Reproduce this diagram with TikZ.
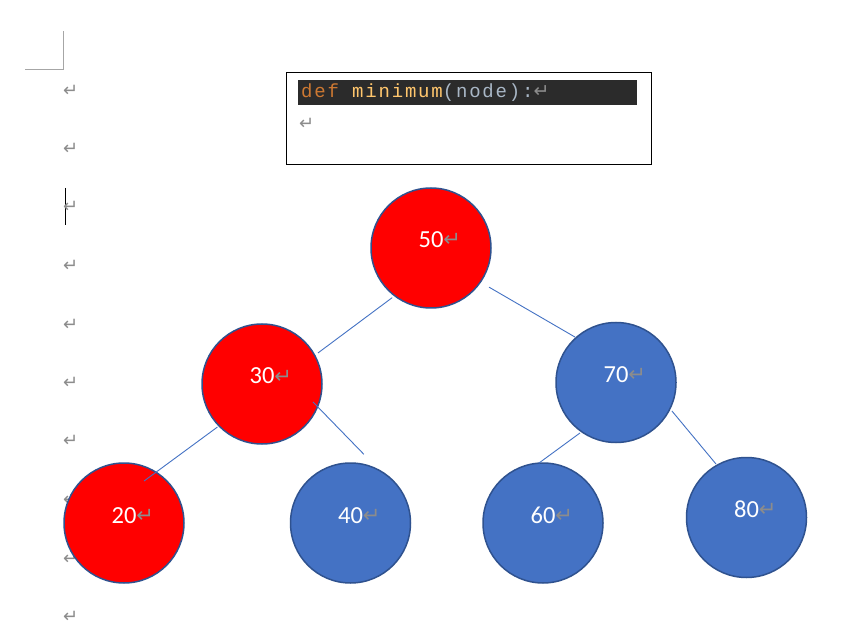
\documentclass[tikz,border=0pt]{standalone}
\usepackage{fontspec}
\setmainfont{Carlito}
\newfontfamily\symfont{DejaVu Sans}
\newfontfamily\codefont[LetterSpace=9.5]{Liberation Mono}
\usetikzlibrary{calc}
\definecolor{redfill}{HTML}{FF0000}
\definecolor{bluefill}{HTML}{4472C4}
\definecolor{ringcol}{HTML}{2F528F}
\definecolor{edgecol}{HTML}{4472C4}
\definecolor{markgray}{HTML}{8C8C8C}
\definecolor{cornergray}{HTML}{A6A6A6}
\definecolor{codebg}{HTML}{2B2B2B}
\definecolor{kwcol}{HTML}{CC7832}
\definecolor{fncol}{HTML}{FFC66D}
\definecolor{plaincol}{HTML}{A9B7C6}
% paragraph mark at a given font size
\newcommand{\pmark}[1]{{\symfont\fontsize{#1}{#1}\selectfont\textcolor{markgray}{↵}}}
\tikzset{
  treenode/.style={circle, draw=ringcol, line width=1.5pt, minimum size=120pt, inner sep=0pt},
  rednode/.style={treenode, fill=redfill},
  bluenode/.style={treenode, fill=bluefill},
  numtxt/.style={anchor=base, inner sep=0pt, text=white, font=\fontsize{24.5}{28}\selectfont},
  edge/.style={draw=edgecol, line width=0.9pt},
  marginmark/.style={anchor=west, inner sep=0pt},
}
\begin{document}
\begin{tikzpicture}[x=1pt, y=-1pt]
  \useasboundingbox (0,0) rectangle (865,636);
  \fill[white] (0,0) rectangle (865,636);

  % page corner and text cursor
  \draw[cornergray, line width=0.8pt] (25,69) -- (63,69) -- (63,31);
  \draw[black, line width=1pt] (65,188) -- (65,225);

  % paragraph marks down the left margin
  \foreach \yy [count=\i] in {91,149,207,266,325,383,441,500,559,617}
    \node[marginmark] (pm\i) at (63,\yy) {\pmark{18}};

  % code box
  \draw[black, line width=0.8pt] (286,72) rectangle (651,164);
  \fill[codebg] (298,80) rectangle (637,105);
  \node[anchor=base west, inner sep=0pt, font=\codefont\fontsize{19}{22}\selectfont] (code) at (301,98)
    {\textcolor{kwcol}{def} \textcolor{fncol}{minimum}\textcolor{plaincol}{(node):}\pmark{19}};
  \node[anchor=base west, inner sep=0pt] (codeblank) at (299,130) {\pmark{18}};

  % tree nodes
  \node[rednode]  (n50) at (431,248) {};
  \node[rednode]  (n30) at (262,384) {};
  \node[bluenode] (n70) at (616,382.5) {};
  \node[rednode]  (n20) at (124,523) {};
  \node[bluenode] (n40) at (350.5,523) {};
  \node[bluenode] (n60) at (543,523) {};
  \node[bluenode] (n80) at (746.5,517.5) {};

  % node values
  \foreach \n in {50,30,70,20,40,60,80}
    \node[numtxt] (t\n) at (n\n.center) {\n\rlap{\raisebox{1pt}{\pmark{21}}}};

  % connectors
  \draw[edge] ($(n50)+(232:63pt)$) -- ($(n30)+(29:64pt)$);
  \draw[edge] ($(n50)+(326:70pt)$) -- ($(n70)+(132:61pt)$);
  \draw[edge] ($(n30)+(224:62pt)$) -- ($(n20)+(64.5:46.5pt)$);
  \draw[edge] ($(n30)+(340.6:54pt)$) -- ($(n40)+(79:70pt)$);
  \draw[edge] ($(n70)+(234.5:62pt)$) -- ($(n60)+(94:60pt)$);
  \draw[edge] ($(n70)+(333:62.8pt)$) -- ($(n80)+(119.7:61.6pt)$);
\end{tikzpicture}
\end{document}
